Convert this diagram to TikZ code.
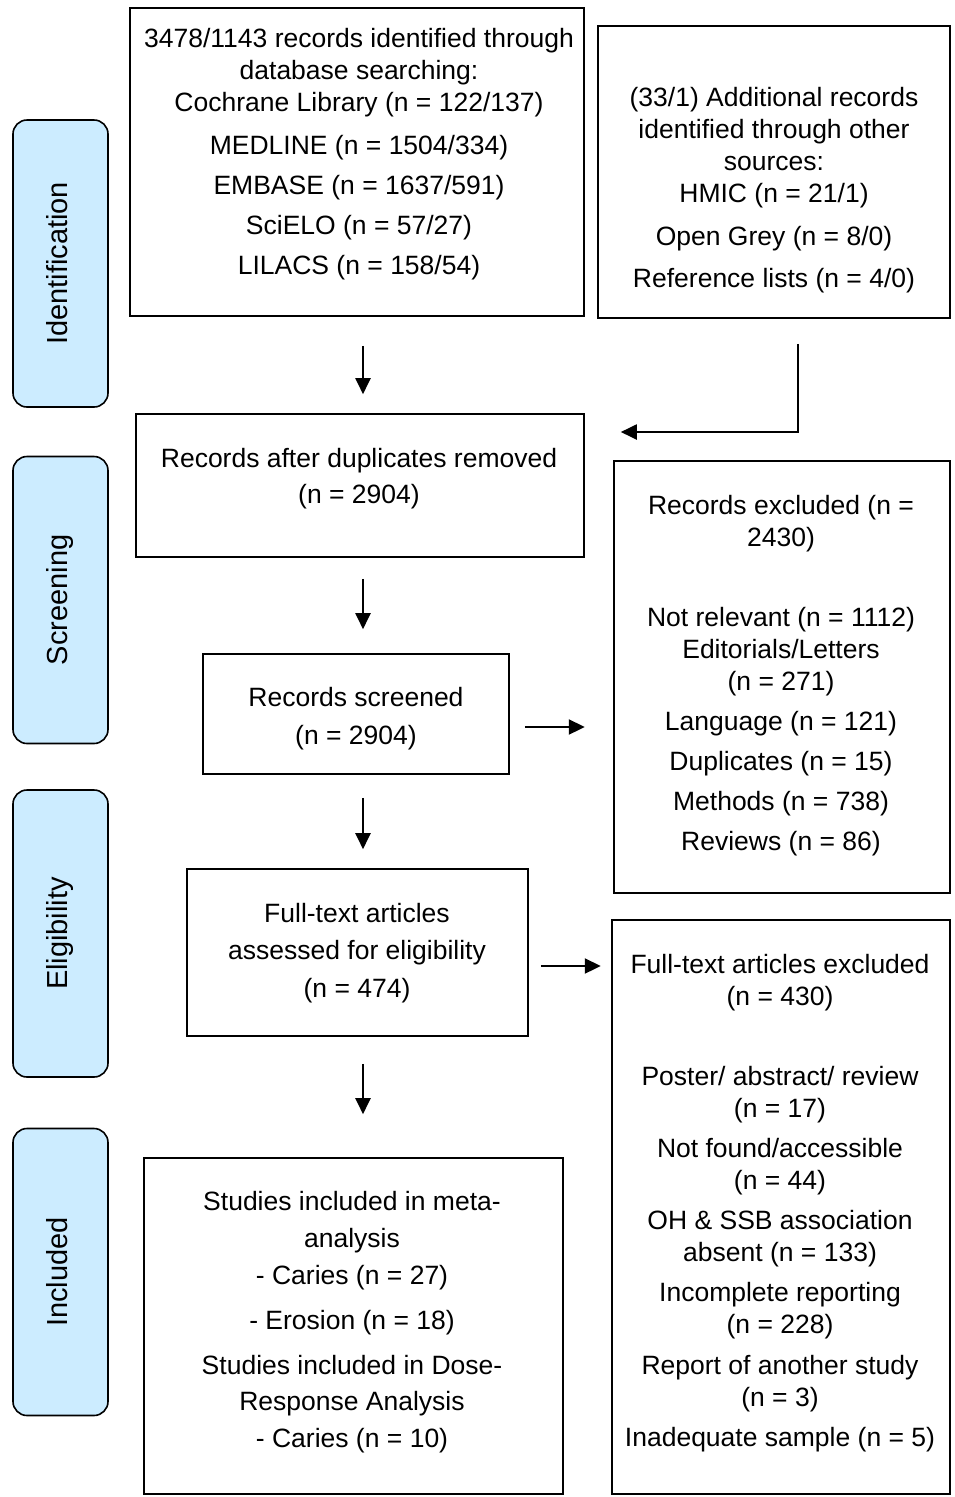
\documentclass[tikz,border=0pt]{standalone}
\usepackage{fontspec}
\setmainfont{Liberation Sans}
\usetikzlibrary{arrows.meta, calc}
\definecolor{phaseblue}{RGB}{204,236,255}

\begin{document}
\begin{tikzpicture}[x=1pt, y=-1pt, >={Triangle[length=16pt,width=15pt]},
  every node/.style={font=\fontsize{26.5}{32}\selectfont},
  box/.style={draw, line width=1.6pt, inner sep=0pt},
  phase/.style={draw, line width=1.6pt, rounded corners=14pt, fill=phaseblue,
    minimum width=287pt, minimum height=95pt, inner sep=0pt, rotate=90,
    font=\fontsize{29}{34}\selectfont, text depth=7pt},
  txt/.style={align=center, anchor=north, inner sep=0pt},
  flow/.style={->, line width=2pt}]
\useasboundingbox (0,0) rectangle (955,1497);

% phases
\node[phase] (ident) at (60.5,263.5) {Identification};
\node[phase] (screen) at (60.5,600) {Screening};
\node[phase] (elig) at (60.5,933.5) {Eligibility};
\node[phase] (incl) at (60.5,1272) {Included};

% boxes
\node[box, minimum width=454pt, minimum height=308pt] (dbbox) at (357,162) {};
\node[box, minimum width=352pt, minimum height=292pt] (otherbox) at (774,172) {};
\node[box, minimum width=448pt, minimum height=143pt] (dupbox) at (360,485.5) {};
\node[box, minimum width=336pt, minimum height=432pt] (excbox) at (782,677) {};
\node[box, minimum width=306pt, minimum height=120pt] (scrbox) at (356,714) {};
\node[box, minimum width=341pt, minimum height=167pt] (ftbox) at (357.5,952.5) {};
\node[box, minimum width=338pt, minimum height=574pt] (ftexcbox) at (781,1207) {};
\node[box, minimum width=419pt, minimum height=336pt] (incbox) at (353.5,1326) {};

% texts (top of first line)
\node[txt] (dbtxt) at (359,28.5) {3478/1143 records identified through\\
  database searching:\\ Cochrane Library (n = 122/137)\\[11pt]
  MEDLINE (n = 1504/334)\\[8pt] EMBASE (n = 1637/591)\\[8pt]
  SciELO (n = 57/27)\\[8pt] LILACS (n = 158/54)};
\node[txt] (othertxt) at (774,87.5) {(33/1) Additional records\\
  identified through other\\ sources:\\ HMIC (n = 21/1)\\[11pt]
  Open Grey (n = 8/0)\\[10pt] Reference lists (n = 4/0)};
\node[txt] (duptxt) at (359,448.5) {Records after duplicates removed\\[4pt] (n = 2904)};
\node[txt] (exctxt) at (781,495.5) {Records excluded (n =\\ 2430)\\[48pt]
  Not relevant (n = 1112)\\ Editorials/Letters\\ (n = 271)\\[8pt]
  Language (n = 121)\\[8pt] Duplicates (n = 15)\\[8pt]
  Methods (n = 738)\\[8pt] Reviews (n = 86)};
\node[txt] (scrtxt) at (356,687.5) {Records screened\\[6pt] (n = 2904)};
\node[txt] (fttxt) at (357,903.5) {Full-text articles\\[5pt]
  assessed for eligibility\\[6pt] (n = 474)};
\node[txt] (ftexctxt) at (780,954.5) {Full-text articles excluded\\ (n = 430)\\[48pt]
  Poster/ abstract/ review\\ (n = 17)\\[8pt] Not found/accessible\\ (n = 44)\\[8pt]
  OH \& SSB association\\ absent (n = 133)\\[8pt] Incomplete reporting\\ (n = 228)\\[9pt]
  Report of another study\\ (n = 3)\\[8pt] Inadequate sample (n = 5)};
\node[txt] (inctxt) at (352,1191.5) {Studies included in meta-\\[5pt] analysis\\[5pt]
  - Caries (n = 27)\\[13pt] - Erosion (n = 18)\\[13pt]
  Studies included in Dose-\\[4pt] Response Analysis\\[5pt] - Caries (n = 10)};

% connectors
\draw[flow] ($(dbbox.south)+(6,29)$) -- ($(dupbox.north)+(3,-19)$);
\draw[flow] ($(otherbox.south)+(24,25)$) |- ($(dupbox.east)+(36,-53.5)$);
\draw[flow] ($(dupbox.south)+(3,21)$) -- ($(scrbox.north)+(7,-24)$);
\draw[flow] ($(scrbox.east)+(15,13)$) -- ($(scrbox.east)+(75,13)$);
\draw[flow] ($(scrbox.south)+(7,23)$) -- ($(ftbox.north)+(5.5,-19)$);
\draw[flow] ($(ftbox.east)+(12,13.5)$) -- ($(ftbox.east)+(72,13.5)$);
\draw[flow] ($(ftbox.south)+(5.5,27)$) -- ($(incbox.north)+(9.5,-43)$);
\end{tikzpicture}
\end{document}
